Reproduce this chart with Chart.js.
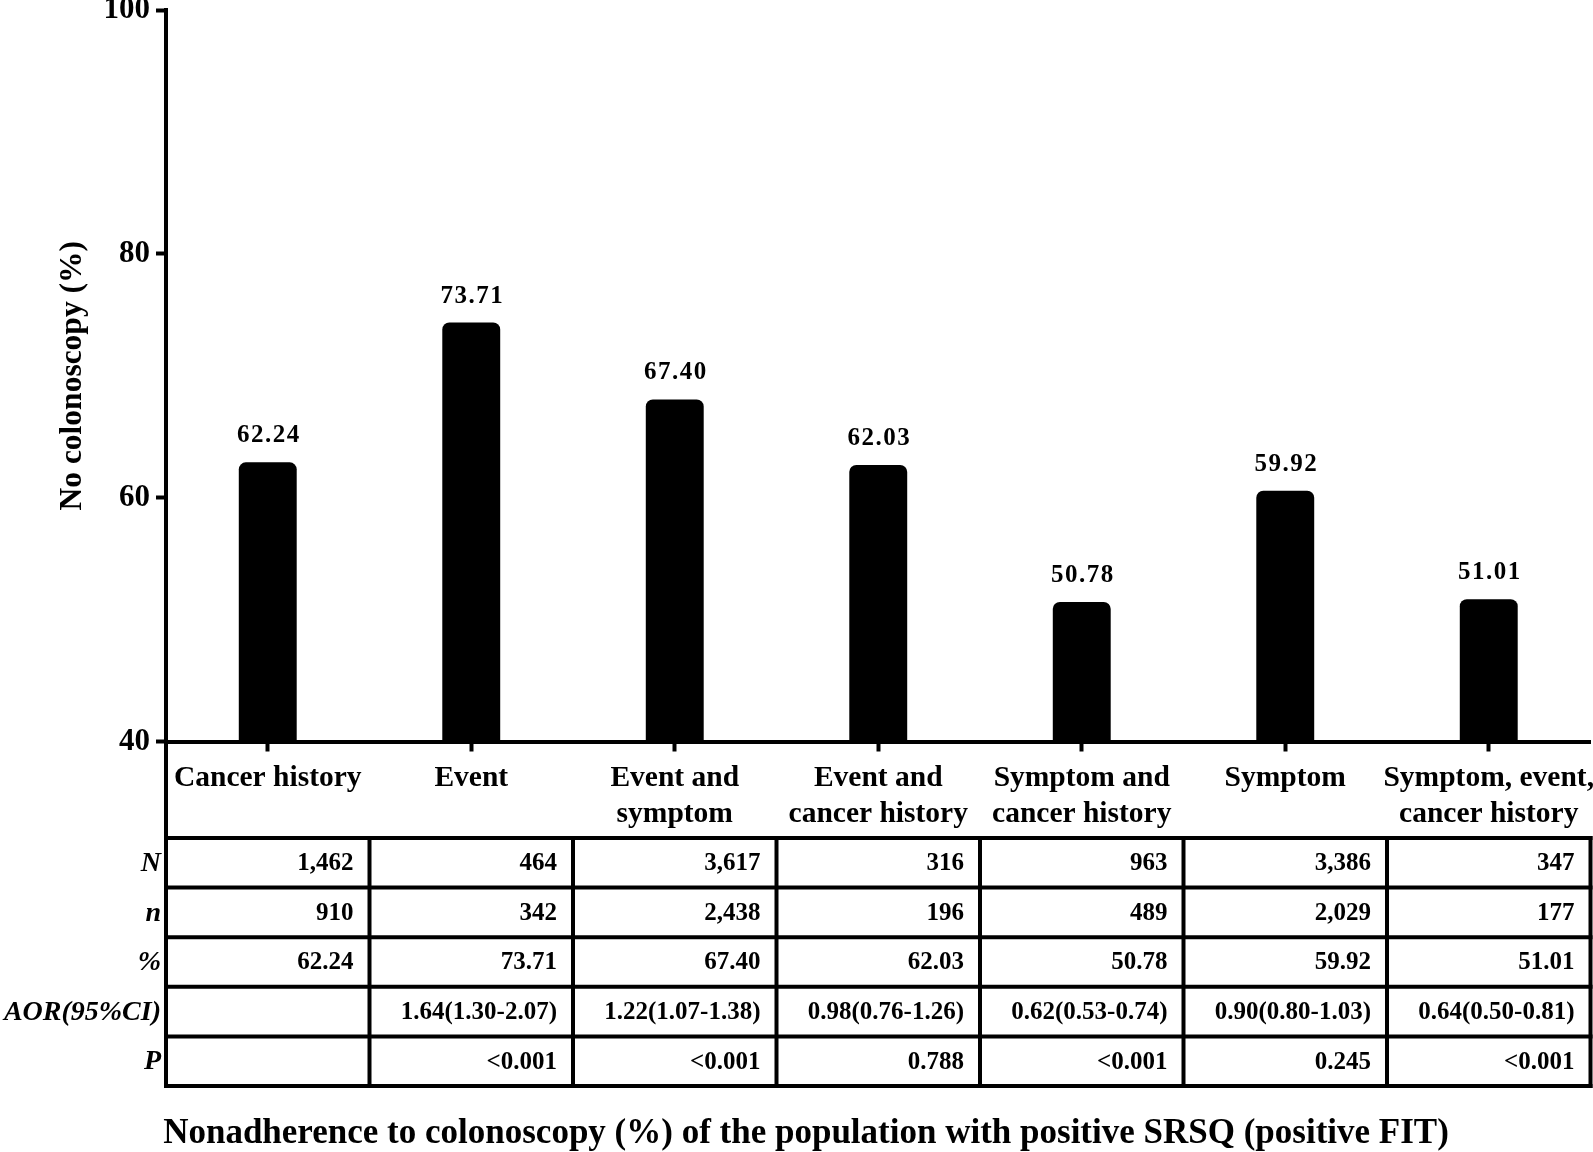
<!DOCTYPE html>
<html>
<head>
<meta charset="utf-8">
<script src="https://cdn.jsdelivr.net/npm/chart.js@4.4.1/dist/chart.umd.min.js"></script>
<style>
	body { margin: 0; background: #fff; }
	#wrap { width: 1593px; height: 1152px; }
</style>
</head>
<body>
<div id="wrap"><canvas id="grafica" width="1593" height="1152"></canvas></div>
<script>
/*******************************************************************************
 * Datos
 *******************************************************************************/
var categorias = [
	['Cancer history'],
	['Event'],
	['Event and', 'symptom'],
	['Event and', 'cancer history'],
	['Symptom and', 'cancer history'],
	['Symptom'],
	['Symptom, event,', 'cancer history']
];
var porcentajes = [62.24, 73.71, 67.40, 62.03, 50.78, 59.92, 51.01];
var ticks_y = [40, 60, 80, 100];

var filas_tabla = ['N', 'n', '%', 'AOR(95%CI)', 'P'];
var valores_N = ['1,462', '464', '3,617', '316', '963', '3,386', '347'];
var valores_n = ['910', '342', '2,438', '196', '489', '2,029', '177'];
var valores_pct = ['62.24', '73.71', '67.40', '62.03', '50.78', '59.92', '51.01'];
var valores_aor = ['', '1.64(1.30-2.07)', '1.22(1.07-1.38)', '0.98(0.76-1.26)', '0.62(0.53-0.74)', '0.90(0.80-1.03)', '0.64(0.50-0.81)'];
var valores_p = ['', '<0.001', '<0.001', '0.788', '<0.001', '0.245', '<0.001'];

var titulo_y = 'No colonoscopy (%)';
var titulo_x = 'Nonadherence to colonoscopy (%) of the population with positive SRSQ (positive FIT)';

var FUENTE = "'Liberation Serif', 'Times New Roman', serif";

/*******************************************************************************
 * Plugins: etiquetas de las barras y tabla inferior
 *******************************************************************************/
var plugin_etiquetas = {
	id: 'etiquetas',
	afterDatasetsDraw: function (chart) {
		var ctx = chart.ctx;
		var meta = chart.getDatasetMeta(0);
		ctx.save();
		ctx.font = 'bold 25px ' + FUENTE;
		ctx.fillStyle = '#000';
		ctx.textAlign = 'center';
		ctx.textBaseline = 'alphabetic';
		ctx.letterSpacing = '1.5px';
		meta.data.forEach(function (barra, i) {
			// el borde grueso de la barra sobresale 8px por encima del valor
			ctx.fillText(porcentajes[i].toFixed(2), barra.x + 1, barra.y - 28);
		});
		ctx.restore();
	}
};

var plugin_tabla = {
	id: 'tabla',
	afterDraw: function (chart) {
		var ctx = chart.ctx;
		var area = chart.chartArea;
		var num_cols = categorias.length;
		var ancho_col = (area.right - area.left) / num_cols;
		var y_tabla = 838;
		var alto_fila = 49.6;
		var filas = [valores_N, valores_n, valores_pct, valores_aor, valores_p];

		ctx.save();
		ctx.strokeStyle = '#000';
		ctx.lineWidth = 4;
		ctx.lineCap = 'square';

		// linea izquierda que sigue al eje
		ctx.beginPath();
		ctx.moveTo(area.left, area.bottom);
		ctx.lineTo(area.left, y_tabla + alto_fila * filas.length);
		ctx.stroke();

		for (var r = 0; r <= filas.length; r++) {
			var y = y_tabla + r * alto_fila;
			ctx.beginPath();
			ctx.moveTo(area.left, y);
			ctx.lineTo(area.right, y);
			ctx.stroke();
		}
		for (var c = 0; c <= num_cols; c++) {
			var x = area.left + c * ancho_col;
			ctx.beginPath();
			ctx.moveTo(x, y_tabla);
			ctx.lineTo(x, y_tabla + alto_fila * filas.length);
			ctx.stroke();
		}

		ctx.fillStyle = '#000';
		ctx.textBaseline = 'middle';

		// cabeceras de fila
		ctx.font = 'italic bold 28px ' + FUENTE;
		ctx.textAlign = 'right';
		filas_tabla.forEach(function (txt, r) {
			ctx.fillText(txt, area.left - 5, y_tabla + (r + 0.5) * alto_fila + 1);
		});

		// valores
		ctx.font = 'bold 25px ' + FUENTE;
		filas.forEach(function (fila, r) {
			fila.forEach(function (txt, c) {
				var x_der = area.left + (c + 1) * ancho_col - 16;
				ctx.fillText(txt, x_der, y_tabla + (r + 0.5) * alto_fila + 1);
			});
		});

		// titulo inferior
		ctx.font = 'bold 35px ' + FUENTE;
		ctx.textAlign = 'center';
		ctx.textBaseline = 'alphabetic';
		ctx.fillText(titulo_x, 806, 1143);
		ctx.restore();
	}
};

/*******************************************************************************
 * Grafica
 *******************************************************************************/
var contexto = document.getElementById('grafica').getContext('2d');

var grafica = new Chart(contexto, {
	type: 'bar',
	data: {
		labels: categorias,
		datasets: [{
			label: titulo_y,
			data: porcentajes,
			backgroundColor: '#000',
			borderWidth: 0,
			borderRadius: 7,
			inflateAmount: 8,
			barPercentage: 0.206,
			categoryPercentage: 1
		}]
	},
	options: {
		responsive: false,
		devicePixelRatio: 1,
		animation: false,
		layout: {
			padding: { top: 10, right: 2.5, left: 0, bottom: 0 }
		},
		plugins: {
			legend: { display: false },
			tooltip: { enabled: false }
		},
		scales: {
			x: {
				offset: true,
				grid: {
					display: true,
					offset: false,
					drawOnChartArea: false,
					drawTicks: true,
					tickLength: 10,
					tickWidth: 4,
					tickColor: '#000'
				},
				border: { display: true, color: '#000', width: 4 },
				ticks: {
					color: '#000',
					padding: 9.5,
					maxRotation: 0,
					autoSkip: false,
					font: { family: FUENTE, size: 29.5, weight: 'bold', lineHeight: 1.2 }
				},
				afterFit: function (scale) {
					scale.height = 1152 - 741.5;
					scale.paddingLeft = 0;
					scale.paddingRight = 0;
				}
			},
			y: {
				min: 40,
				max: 100,
				afterBuildTicks: function (scale) {
					scale.ticks = ticks_y.map(function (v) { return { value: v }; });
				},
				grid: {
					display: true,
					drawOnChartArea: false,
					drawTicks: true,
					tickLength: 10,
					tickWidth: 4,
					tickColor: '#000'
				},
				border: { display: true, color: '#000', width: 4 },
				ticks: {
					color: '#000',
					padding: 6,
					font: { family: FUENTE, size: 31, weight: 'bold' }
				},
				title: {
					display: true,
					text: titulo_y,
					color: '#000',
					padding: { top: 54, bottom: 0 },
					font: { family: FUENTE, size: 31.5, weight: 'bold', lineHeight: 1.2 }
				},
				afterFit: function (scale) {
					scale.width = 166;
					scale.paddingTop = 0;
					scale.paddingBottom = 0;
				}
			}
		}
	},
	plugins: [plugin_etiquetas, plugin_tabla]
});
</script>
</body>
</html>
